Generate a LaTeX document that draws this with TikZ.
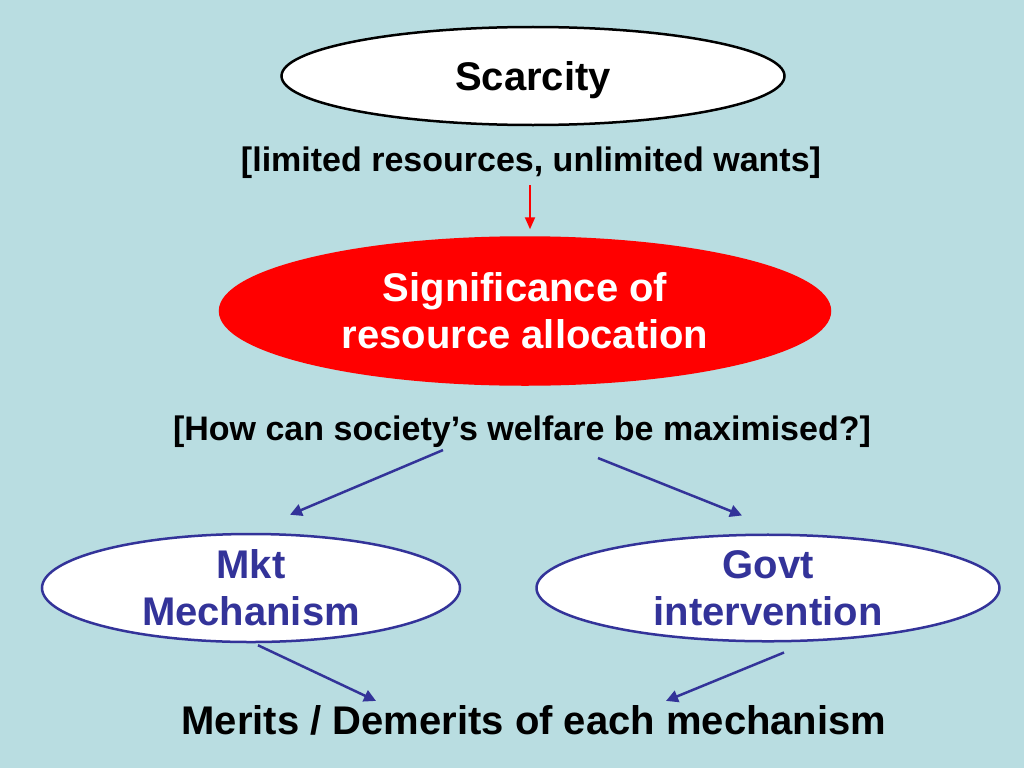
\documentclass[tikz,border=0pt]{standalone}
\usepackage{fontspec}
\setmainfont{Liberation Sans}
\usetikzlibrary{shapes.geometric,arrows.meta}
\usepackage{xcolor}
\definecolor{bgblue}{HTML}{B9DDE1}
\definecolor{mechblue}{HTML}{333399}
\tikzset{
  oval/.style={ellipse,draw,line width=2.5pt,inner sep=0pt,align=center,
    font=\fontsize{40}{47}\selectfont\bfseries},
  bracket/.style={inner sep=0pt,font=\fontsize{34}{40}\selectfont\bfseries},
  bluearrow/.style={draw=mechblue,line width=2.5pt,
    -{Triangle[length=12pt,width=12pt]}},
  redarrow/.style={draw=red,line width=2pt,
    -{Triangle[length=12pt,width=10pt]}}
}

\begin{document}
\begin{tikzpicture}[x=1pt,y=-1pt]

\fill[bgblue] (0,0) rectangle (1024,768);
\useasboundingbox (0,0) rectangle (1024,768);

\node[oval,fill=white,minimum width=503pt,minimum height=98pt,text depth=0pt] (scarcity) at (533,76) {Scarcity};

\node[bracket] (wants) at (531,163) {[limited resources, unlimited wants]};

\node[oval,draw=red,fill=red,text=white,minimum width=610pt,minimum height=147pt] (alloc) at (525,311) {Significance of\\resource allocation};

\node[bracket] (welfare) at (522,432) {[How can society’s welfare be maximised?]};

\node[oval,draw=mechblue,fill=white,text=mechblue,minimum width=418pt,minimum height=100pt] (mkt) at (251,588) {Mkt\\Mechanism};

\node[oval,draw=mechblue,fill=white,text=mechblue,minimum width=463pt,minimum height=100pt] (govt) at (768,588) {Govt\\intervention};

\node[inner sep=0pt,font=\fontsize{40}{47}\selectfont\bfseries] (merits) at (534,720) {Merits / Demerits of each mechanism};

\draw[redarrow] ([xshift=-1pt,yshift=-6pt]wants.south) -- ([xshift=5pt,yshift=7pt]alloc.north);

\draw[bluearrow] ([xshift=-79pt,yshift=-2pt]welfare.south) -- ([xshift=39pt,yshift=18pt]mkt.north);
\draw[bluearrow] ([xshift=76pt,yshift=-10pt]welfare.south) -- ([xshift=-26pt,yshift=18pt]govt.north);

\draw[bluearrow] ([xshift=7pt,yshift=-2pt]mkt.south) -- ([xshift=-158pt,yshift=4pt]merits.north);
\draw[bluearrow] ([xshift=16pt,yshift=-10pt]govt.south) -- ([xshift=132pt,yshift=4pt]merits.north);

\end{tikzpicture}
\end{document}
